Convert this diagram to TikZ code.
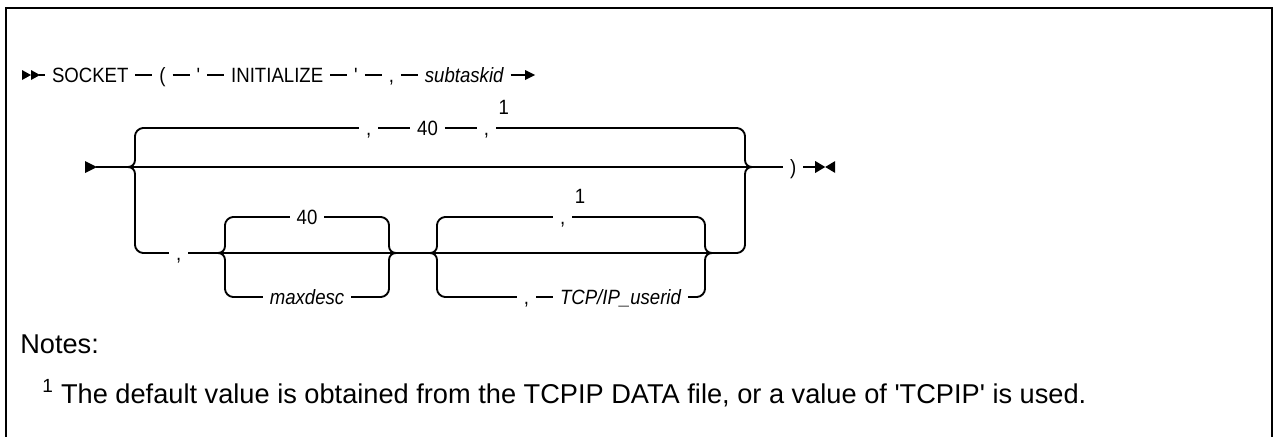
\documentclass[tikz,border=0pt]{standalone}
\usepackage{fontspec}
\setmainfont{Liberation Sans}[Ligatures=TeXOff]
\newfontfamily\diagfont{Liberation Sans}[Ligatures=TeXOff, FakeStretch=0.9]
\usetikzlibrary{positioning}
% left junction: X, top y, middle y, bottom y (pixel units, y downwards)
\newcommand\railL[4]{%
  \draw[rail] (#1+8,#2) .. controls (#1+3.6,#2) and (#1,#2+4.4) .. (#1,#2+8) -- (#1,#3-7)
    .. controls (#1,#3-3) and (#1-3,#3) .. (#1-7,#3)
    .. controls (#1-3,#3) and (#1,#3+3) .. (#1,#3+7) -- (#1,#4-8)
    .. controls (#1,#4-4.4) and (#1+3.6,#4) .. (#1+8,#4);}
\newcommand\railR[4]{%
  \draw[rail] (#1-8,#2) .. controls (#1-3.6,#2) and (#1,#2+4.4) .. (#1,#2+8) -- (#1,#3-7)
    .. controls (#1,#3-3) and (#1+3,#3) .. (#1+7,#3)
    .. controls (#1+3,#3) and (#1,#3+3) .. (#1,#3+7) -- (#1,#4-8)
    .. controls (#1,#4-4.4) and (#1-3.6,#4) .. (#1-8,#4);}
\begin{document}
\begin{tikzpicture}[x=0.75pt,y=-0.75pt,
  rail/.style={line width=1.4pt, line join=round},
  lbl/.style={inner xsep=5.25pt, inner ysep=0pt, outer sep=0pt, text height=11.1pt, text depth=0pt,
    font=\diagfont\fontsize{15.5pt}{18pt}\selectfont, anchor=west},
  var/.style={lbl, font=\diagfont\fontsize{15.5pt}{18pt}\selectfont\itshape},
  supnum/.style={inner sep=0pt, outer sep=0pt, anchor=base west, font=\diagfont\fontsize{15.5pt}{18pt}\selectfont},
  notetext/.style={inner sep=0pt, anchor=base west, font=\fontsize{20.4pt}{24pt}\selectfont},
  frame/.style={line width=1.5pt},
  tip/.style={fill=black, draw=none}]
\useasboundingbox (0,0) rectangle (1274,436);
% frame (open at the bottom)
\draw[frame] (6,440) -- (6,8) -- (1272,8) -- (1272,440);

% ---------------- row 1 ----------------
\fill[tip] (22,70) -- (31,75) -- (22,80) -- cycle;
\fill[tip] (31,70) -- (40,75) -- (31,80) -- cycle;
\coordinate (s0) at (39,75);
\node[lbl] (socket) at (45,75) {SOCKET};
\node[lbl, right=12.75pt of socket] (lp) {(};
\node[lbl, right=12.75pt of lp] (q1) {'};
\node[lbl, right=12.75pt of q1] (init) {INITIALIZE};
\node[lbl, right=12.75pt of init] (q2) {'};
\node[lbl, right=12.75pt of q2] (c1) {,};
\node[var, right=12.75pt of c1] (sub) {subtaskid};
\coordinate (e1) at ([xshift=11pt]sub.east);
\draw[rail] (s0) -- (socket.west) (socket.east) -- (lp.west) (lp.east) -- (q1.west)
  (q1.east) -- (init.west) (init.east) -- (q2.west) (q2.east) -- (c1.west)
  (c1.east) -- (sub.west) (sub.east) -- (e1);
\fill[tip] (e1) ++(0,-5) -- ++(10,5) -- ++(-10,5) -- cycle;

% ---------------- row 2 ----------------
\fill[tip] (85,161) -- (97,167) -- (85,173) -- cycle;
\coordinate (m0) at (96,167);
\node[lbl] (rp) at (783,167) {)};
\draw[rail] (m0) -- (rp.west);
\coordinate (m1) at ([xshift=9pt]rp.east);
\draw[rail] (rp.east) -- (m1);
\fill[tip] (m1) ++(0,-6) -- ++(10,6) -- ++(-10,6) -- cycle;
\fill[tip] (m1) ++(20,-6) -- ++(-10,6) -- ++(10,6) -- cycle;

% main group braces
\railL{135}{128}{167}{253}
\railR{745}{128}{167}{253}

% top (default) branch
\coordinate (t0) at (143,128);
\coordinate (t1) at (737,128);
\node[lbl] (tc1) at (359,128) {,};
\node[lbl, right=24pt of tc1] (t40) {40};
\node[lbl, right=24pt of t40] (tc2) {,};
\node[supnum] (tn) at ([xshift=2pt,yshift=10.5pt]tc2.east) {1};
\draw[rail] (t0) -- (tc1.west) (tc1.east) -- (t40.west) (t40.east) -- (tc2.west) (tc2.east) -- (t1);

% bottom branch
\coordinate (b0) at (143,253);
\coordinate (b1) at (737,253);
\node[lbl] (bc) at (169,253) {,};
\draw[rail] (b0) -- (bc.west);
\coordinate (g1l) at (218,253);
\coordinate (g1r) at (396,253);
\coordinate (g2l) at (430,253);
\coordinate (g2r) at (712,253);
\draw[rail] (bc.east) -- (g1l) -- (g1r) -- (g2l) -- (g2r) -- (b1);

% group 1: 40 / maxdesc
\railL{225}{217}{253}{297}
\railR{389}{217}{253}{297}
\node[lbl, anchor=center] (g40) at (307,217) {40};
\draw[rail] (233,217) -- (g40.west) (g40.east) -- (381,217);
\node[var, anchor=center] (gmax) at (307,297) {maxdesc};
\draw[rail] (233,297) -- (gmax.west) (gmax.east) -- (381,297);

% group 2: ,1 / , TCP/IP_userid
\railL{437}{217}{253}{297}
\railR{705}{217}{253}{297}
\node[lbl] (g2c) at (553,217) {,};
\node[supnum] (g2n) at ([xshift=2pt,yshift=10.5pt]g2c.east) {1};
\draw[rail] (445,217) -- (g2c.west) (g2c.east) -- (697,217);
\node[var] (uid) at (553,297) {TCP/IP\_userid};
\node[lbl, left=12.75pt of uid] (ubc) {,};
\draw[rail] (445,297) -- (ubc.west) (ubc.east) -- (uid.west) (uid.east) -- (697,297);

% ---------------- notes ----------------
\node[notetext] (notes) at (20,353) {Notes:};
\node[notetext] (fn) at (42,403) {\textsuperscript{1} The default value is obtained from the TCPIP DATA file, or a value of 'TCPIP' is used.};
\end{tikzpicture}
\end{document}
